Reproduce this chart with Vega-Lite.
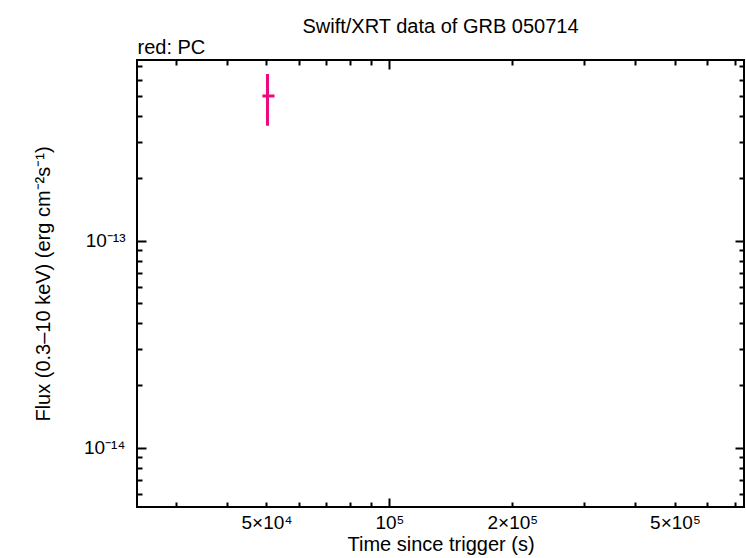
{
  "$schema": "https://vega.github.io/schema/vega-lite/v6.json",
  "width": 607,
  "height": 447,
  "autosize": "none",
  "padding": {"left": 137, "top": 60, "right": 2, "bottom": 51},
  "config": {
    "font": "Liberation Sans",
    "view": {"stroke": "black", "strokeWidth": 2},
    "axis": {
      "domain": false,
      "grid": false,
      "labelFont": "Liberation Sans",
      "titleFont": "Liberation Sans",
      "titleFontWeight": "normal",
      "labelColor": "black",
      "titleColor": "black",
      "tickColor": "black",
      "tickWidth": 2
    }
  },
  "title": {
    "text": "Swift/XRT data of GRB 050714",
    "anchor": "middle",
    "font": "Liberation Sans",
    "fontSize": 20,
    "fontWeight": "normal",
    "color": "black",
    "offset": 0
  },
  "data": {
    "values": [
      {"t": 50300, "t_lo": 48860, "t_hi": 52320, "flux": 5.0e-13, "flux_lo": 3.6e-13, "flux_hi": 6.38e-13}
    ]
  },
  "resolve": {"axis": {"x": "independent", "y": "independent"}},
  "layer": [
    {
      "mark": {"type": "rule", "color": "#f0087f", "strokeWidth": 3},
      "encoding": {
        "x": {
          "field": "t",
          "type": "quantitative",
          "scale": {"type": "log", "domain": [24100, 738000], "nice": false, "zero": false},
          "axis": {
            "orient": "bottom",
            "values": [50000, 100000, 200000, 500000],
            "labelExpr": "datum.value == 100000 ? '10⁵' : datum.value == 50000 ? '5×10⁴' : datum.value == 200000 ? '2×10⁵' : '5×10⁵'",
            "ticks": false,
            "labelPadding": 6,
            "labelFontSize": 19,
            "labelFlush": false,
            "title": "Time since trigger (s)",
            "titleFontSize": 20,
            "titlePadding": 2
          }
        },
        "y": {
          "field": "flux_lo",
          "type": "quantitative",
          "scale": {"type": "log", "domain": [5.17e-15, 7.46e-13], "nice": false, "zero": false},
          "axis": {
            "orient": "left",
            "values": [1e-13, 1e-14],
            "labelExpr": "datum.value > 5e-14 ? '10⁻¹³' : '10⁻¹⁴'",
            "ticks": false,
            "labelPadding": 12,
            "labelFontSize": 19,
            "labelFlush": false,
            "title": "Flux (0.3–10 keV) (erg cm⁻²s⁻¹)",
            "titleFontSize": 20,
            "titlePadding": 30
          }
        },
        "y2": {"field": "flux_hi"}
      }
    },
    {
      "mark": {"type": "rule", "color": "#f0087f", "strokeWidth": 3},
      "encoding": {
        "x": {
          "field": "t_lo",
          "type": "quantitative",
          "scale": {"type": "log", "domain": [24100, 738000], "nice": false, "zero": false},
          "axis": {
            "orient": "bottom",
            "values": [30000, 40000, 50000, 60000, 70000, 80000, 90000, 100000, 200000, 300000, 400000, 500000, 600000, 700000],
            "labels": false,
            "title": null,
            "tickSize": {"condition": {"test": "abs(log(datum.value)/LN10 - round(log(datum.value)/LN10)) < 0.01", "value": -9}, "value": -5}
          }
        },
        "x2": {"field": "t_hi"},
        "y": {
          "field": "flux",
          "type": "quantitative",
          "scale": {"type": "log", "domain": [5.17e-15, 7.46e-13], "nice": false, "zero": false},
          "axis": {
            "orient": "left",
            "values": [6e-15, 7e-15, 8e-15, 9e-15, 1e-14, 2e-14, 3e-14, 4e-14, 5e-14, 6e-14, 7e-14, 8e-14, 9e-14, 1e-13, 2e-13, 3e-13, 4e-13, 5e-13, 6e-13, 7e-13],
            "labels": false,
            "title": null,
            "tickSize": {"condition": {"test": "abs(log(datum.value)/LN10 - round(log(datum.value)/LN10)) < 0.01", "value": -9}, "value": -5}
          }
        }
      }
    },
    {
      "mark": {"type": "rule", "color": "#f0087f", "strokeWidth": 3},
      "encoding": {
        "x": {
          "field": "t",
          "type": "quantitative",
          "scale": {"type": "log", "domain": [24100, 738000], "nice": false, "zero": false},
          "axis": {
            "orient": "top",
            "values": [30000, 40000, 50000, 60000, 70000, 80000, 90000, 100000, 200000, 300000, 400000, 500000, 600000, 700000],
            "labels": false,
            "title": "red: PC",
            "titleFontSize": 20,
            "titleAnchor": "start",
            "titleAlign": "left",
            "titlePadding": 2,
            "tickSize": {"condition": {"test": "abs(log(datum.value)/LN10 - round(log(datum.value)/LN10)) < 0.01", "value": -9}, "value": -5}
          }
        },
        "y": {
          "field": "flux_lo",
          "type": "quantitative",
          "scale": {"type": "log", "domain": [5.17e-15, 7.46e-13], "nice": false, "zero": false},
          "axis": {
            "orient": "right",
            "values": [6e-15, 7e-15, 8e-15, 9e-15, 1e-14, 2e-14, 3e-14, 4e-14, 5e-14, 6e-14, 7e-14, 8e-14, 9e-14, 1e-13, 2e-13, 3e-13, 4e-13, 5e-13, 6e-13, 7e-13],
            "labels": false,
            "title": null,
            "tickSize": {"condition": {"test": "abs(log(datum.value)/LN10 - round(log(datum.value)/LN10)) < 0.01", "value": -9}, "value": -5}
          }
        },
        "y2": {"field": "flux_hi"}
      }
    }
  ]
}
